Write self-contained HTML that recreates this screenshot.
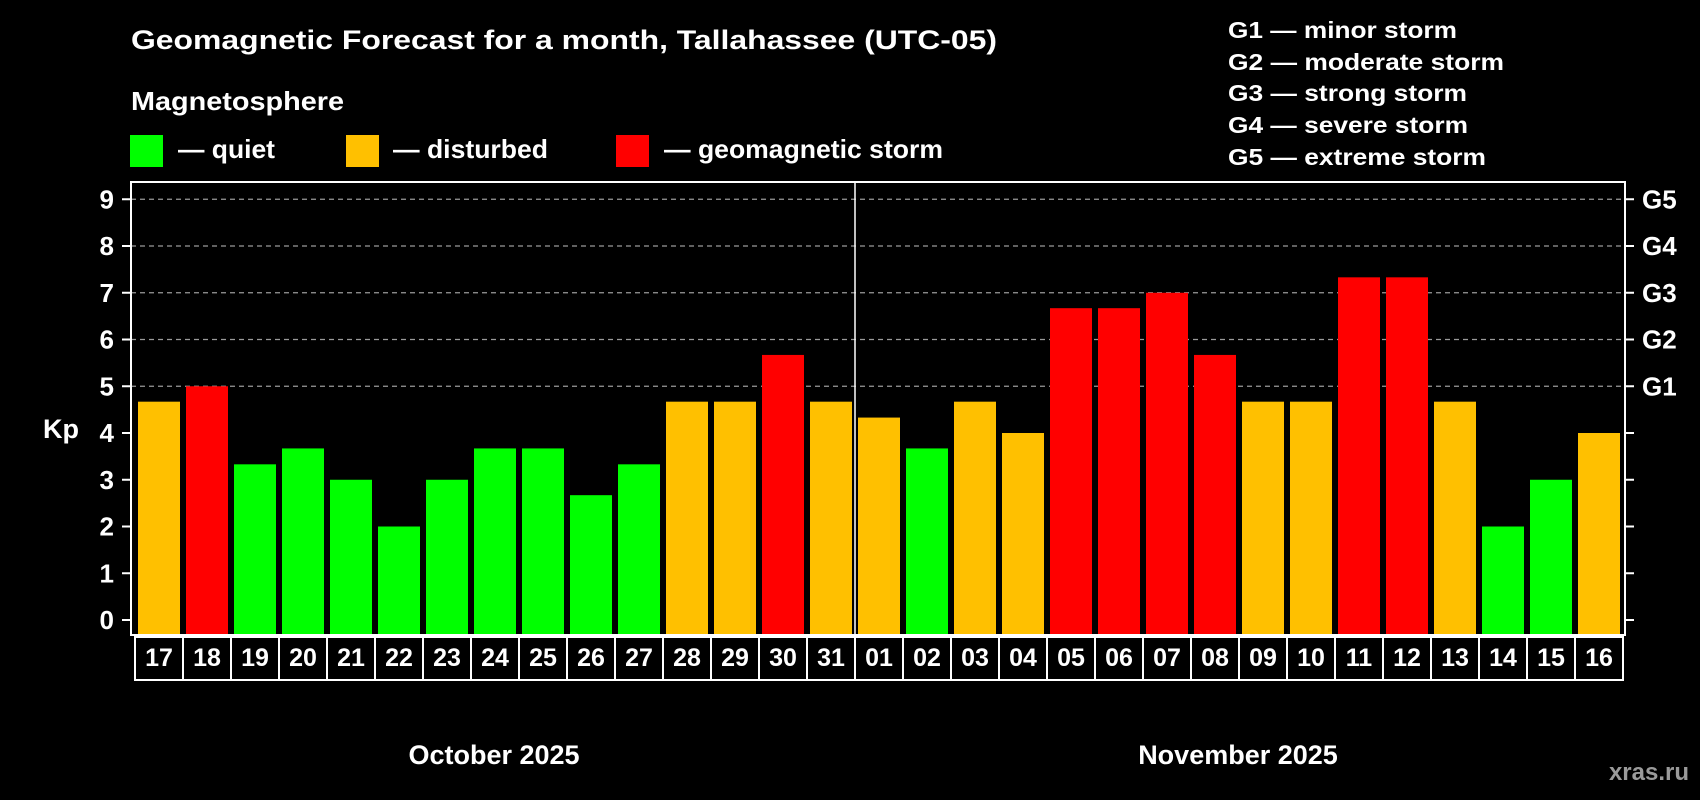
<!DOCTYPE html>
<html><head><meta charset="utf-8"><style>
html,body{margin:0;padding:0;background:#000;}
svg{display:block;font-family:"Liberation Sans",Arial,sans-serif;font-weight:bold;}
</style></head><body>
<svg id="chart" width="1700" height="800" viewBox="0 0 1700 800" xmlns="http://www.w3.org/2000/svg">
<rect width="1700" height="800" fill="#000"/>
<text x="131" y="49" fill="#fff" font-size="27" textLength="866" lengthAdjust="spacingAndGlyphs">Geomagnetic Forecast for a month, Tallahassee (UTC-05)</text>
<text x="131" y="110" fill="#fff" font-size="26" textLength="213" lengthAdjust="spacingAndGlyphs">Magnetosphere</text>
<rect x="130" y="135" width="33" height="32" fill="#00ff00"/>
<text x="178" y="158" fill="#fff" font-size="26" textLength="97" lengthAdjust="spacingAndGlyphs">— quiet</text>
<rect x="346" y="135" width="33" height="32" fill="#ffc000"/>
<text x="393" y="158" fill="#fff" font-size="26" textLength="155" lengthAdjust="spacingAndGlyphs">— disturbed</text>
<rect x="616" y="135" width="33" height="32" fill="#ff0000"/>
<text x="664" y="158" fill="#fff" font-size="26" textLength="279" lengthAdjust="spacingAndGlyphs">— geomagnetic storm</text>
<g fill="#fff" font-size="23">
<text x="1228" y="38" textLength="229" lengthAdjust="spacingAndGlyphs">G1 — minor storm</text>
<text x="1228" y="70" textLength="276" lengthAdjust="spacingAndGlyphs">G2 — moderate storm</text>
<text x="1228" y="101" textLength="239" lengthAdjust="spacingAndGlyphs">G3 — strong storm</text>
<text x="1228" y="133" textLength="240" lengthAdjust="spacingAndGlyphs">G4 — severe storm</text>
<text x="1228" y="165" textLength="258" lengthAdjust="spacingAndGlyphs">G5 — extreme storm</text>
</g>
<text x="43" y="438" fill="#fff" font-size="27">Kp</text>
<text x="494" y="764" fill="#fff" font-size="27" text-anchor="middle">October 2025</text>
<text x="1238" y="764" fill="#fff" font-size="27" text-anchor="middle">November 2025</text>
<text x="1689" y="780" fill="#9a9a9a" font-size="24" text-anchor="end">xras.ru</text>
<g id="plot"></g>
</svg>
<script>
const days = ["17","18","19","20","21","22","23","24","25","26","27","28","29","30","31","01","02","03","04","05","06","07","08","09","10","11","12","13","14","15","16"];
const kpValues = [4.67,5,3.33,3.67,3,2,3,3.67,3.67,2.67,3.33,4.67,4.67,5.67,4.67,4.33,3.67,4.67,4,6.67,6.67,7,5.67,4.67,4.67,7.33,7.33,4.67,2,3,4];
const yTicks = [0,1,2,3,4,5,6,7,8,9];
const gLabels = ["G1","G2","G3","G4","G5"];
const gLevels = [5,6,7,8,9];
const monthBreakIndex = 15;

const NS = "http://www.w3.org/2000/svg";
const g = document.getElementById('plot');
const L = 131, R = 1625, T = 182, B = 635;
const y0 = 620, unit = 46.75;
const cell0 = 135, pitch = 48;
function yScale(v){ return y0 - v*unit; }
function xCell(i){ return cell0 + i*pitch; }
function mk(tag, attrs){ const e = document.createElementNS(NS, tag); for (const k in attrs) e.setAttribute(k, attrs[k]); g.appendChild(e); return e; }
function color(v){ return v < 4 ? "#00ff00" : (v < 5 ? "#ffc000" : "#ff0000"); }

gLevels.forEach((lv, i) => {
  const y = yScale(lv);
  const ln = mk('line', {x1:L, x2:R, y1:y, y2:y, stroke:"#9a9a9a", "stroke-width":1.2, "stroke-dasharray":"5,4"});
  
  
  const t = mk('text', {x:1642, y:y+9, fill:"#fff", "font-size":26});
  t.textContent = gLabels[i];
  
  
});

yTicks.forEach(v => {
  const y = yScale(v);
  const tl = mk('line', {x1:122, x2:L, y1:y, y2:y, stroke:"#fff", "stroke-width":2});
  
  
  const tr = mk('line', {x1:R, x2:1634, y1:y, y2:y, stroke:"#fff", "stroke-width":2});
  
  
  const t = mk('text', {x:114, y:y+9, fill:"#fff", "font-size":26, "text-anchor":"end"});
  t.textContent = v;
  
  
});

kpValues.forEach((v, i) => {
  const x = xCell(i) + 3;
  const top = yScale(v);
  const b = mk('rect', {x:x, y:top, width:42, height:B - top, fill:color(v)});
  
  
  const c = mk('rect', {x:xCell(i), y:637, width:pitch, height:43, fill:"none", stroke:"#fff", "stroke-width":2});
  
  
  const t = mk('text', {x:xCell(i)+pitch/2, y:666, fill:"#fff", "font-size":25, "text-anchor":"middle"});
  t.textContent = days[i];
  
  
});

const dx = xCell(monthBreakIndex);
const dv = mk('line', {x1:dx, x2:dx, y1:T, y2:B, stroke:"#fff", "stroke-width":1.5});



const frame = mk('rect', {x:L, y:T, width:R-L, height:B-T, fill:"none", stroke:"#fff", "stroke-width":2});


</script>
</body></html>
